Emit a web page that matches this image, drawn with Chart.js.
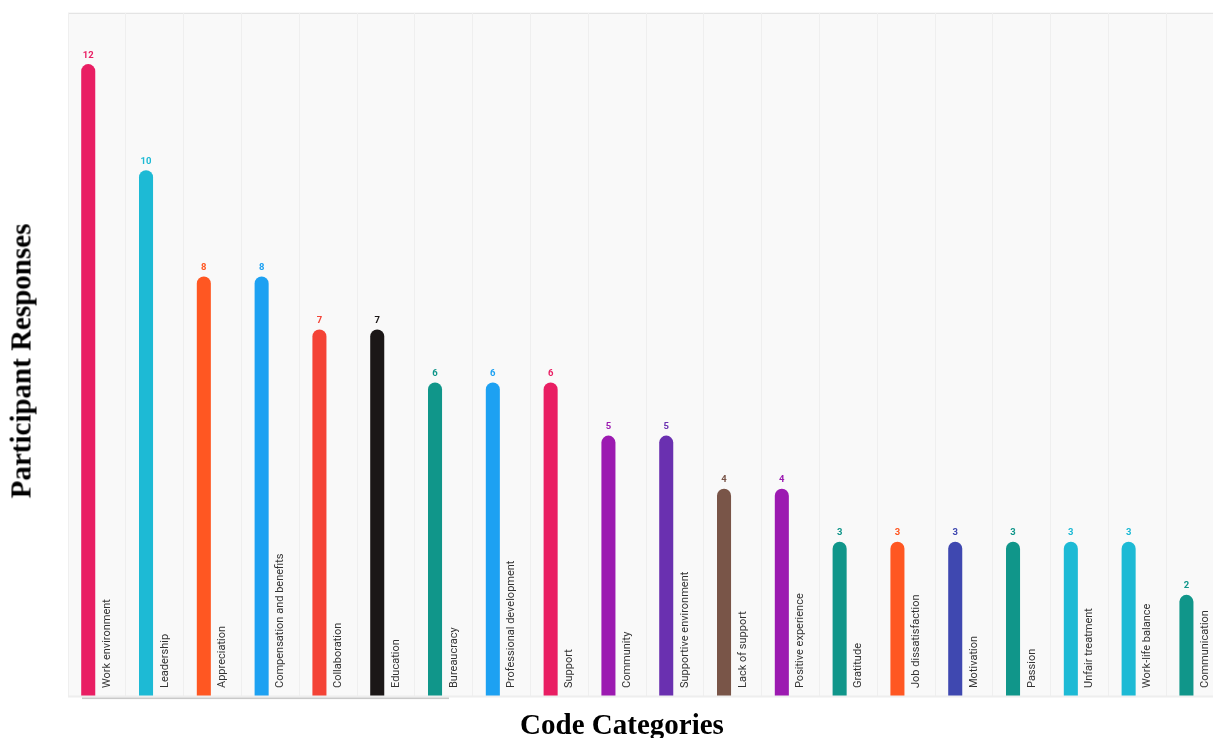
<!DOCTYPE html>
<html>
<head>
<meta charset="utf-8">
<script src="https://cdn.jsdelivr.net/npm/chart.js@4"></script>
<style>
  html, body { margin: 0; padding: 0; background: #ffffff; overflow: hidden; width: 1213px; height: 738px; }
  #wrap { position: relative; width: 1213px; height: 738px; overflow: hidden; }
  #chart { position: absolute; left: 0; top: 0; }
  .axis-title {
    position: absolute;
    font-family: "Liberation Serif", "Times New Roman", serif;
    font-weight: bold;
    font-size: 29px;
    line-height: 29px;
    color: #000;
    white-space: nowrap;
  }
  #xTitle { left: 622px; top: 710px; transform: translateX(-50%); }
  #yTitle { left: 21px; top: 361px; transform: translate(-50%, -50%) rotate(-90deg); }
</style>
</head>
<body>
<div id="wrap">
  <canvas id="chart" width="1240" height="738"></canvas>
  <div id="xTitle" class="axis-title">Code Categories</div>
  <div id="yTitle" class="axis-title">Participant Responses</div>
</div>
<script>
// Code categories and how many participants mentioned each
const categories = [
  "Work environment", "Leadership", "Appreciation", "Compensation and benefits",
  "Collaboration", "Education", "Bureaucracy", "Professional development",
  "Support", "Community", "Supportive environment", "Lack of support",
  "Positive experience", "Gratitude", "Job dissatisfaction", "Motivation",
  "Passion", "Unfair treatment", "Work-life balance", "Communication"
];
const responses = [12, 10, 8, 8, 7, 7, 6, 6, 6, 5, 5, 4, 4, 3, 3, 3, 3, 3, 3, 2];
const barColors = [
  "#E91E63", "#1DBAD5", "#FF5722", "#1DA1F2",
  "#F44336", "#1B1717", "#10968A", "#1DA1F2",
  "#E91E63", "#9C1AB1", "#6A30B0", "#795548",
  "#9C1AB1", "#10968A", "#FF5722", "#3F48B0",
  "#10968A", "#1DBAD5", "#1DBAD5", "#10968A"
];
const yMax = 13;

// Plot background, top rule and bottom strip
const frame = {
  id: 'frame',
  beforeDraw(chart) {
    const { ctx, chartArea: a } = chart;
    ctx.save();
    ctx.fillStyle = '#f9f9f9';
    ctx.fillRect(a.left, 13, a.right - a.left, a.bottom - 13);
    ctx.fillStyle = '#e4e4e4';
    ctx.fillRect(a.left, 12.5, a.right - a.left, 1.5);
    ctx.restore();
  },
  beforeDatasetsDraw(chart) {
    const { ctx, chartArea: a } = chart;
    ctx.save();
    ctx.fillStyle = '#ffffff';
    ctx.fillRect(a.left, 0, a.right - a.left, 12.5);
    ctx.restore();
  },
  afterDatasetsDraw(chart) {
    const { ctx, chartArea: a } = chart;
    ctx.save();
    ctx.fillStyle = '#ffffff';
    ctx.fillRect(a.left, 696, a.right - a.left, 10);
    ctx.fillStyle = '#eeeeee';
    ctx.fillRect(a.left, 695.5, a.right - a.left, 2);
    ctx.fillStyle = '#c9c9c9';
    ctx.fillRect(82, 697.5, 367, 1.6);
    ctx.restore();
  }
};

// Value above each bar and the category name beside it
const barLabels = {
  id: 'barLabels',
  afterDatasetsDraw(chart) {
    const { ctx } = chart;
    const meta = chart.getDatasetMeta(0);
    ctx.save();
    meta.data.forEach((bar, i) => {
      ctx.fillStyle = barColors[i];
      ctx.font = 'bold 9.5px Roboto, "Noto Sans", sans-serif';
      ctx.textAlign = 'center';
      ctx.textBaseline = 'alphabetic';
      ctx.fillText(String(responses[i]), bar.x, bar.y - 6.5);

      ctx.save();
      ctx.translate(bar.x + 21.5, 688);
      ctx.rotate(-Math.PI / 2);
      ctx.fillStyle = '#333333';
      ctx.font = '11px Roboto, "Noto Sans", sans-serif';
      ctx.textAlign = 'left';
      ctx.textBaseline = 'alphabetic';
      ctx.fillText(categories[i], 0, 0);
      ctx.restore();
    });
    ctx.restore();
  }
};

new Chart(document.getElementById('chart'), {
  type: 'bar',
  data: {
    labels: categories,
    datasets: [
      {
        label: 'Participant Responses',
        data: responses,
        backgroundColor: barColors,
        borderRadius: 7,
        borderSkipped: 'start',
        categoryPercentage: 0.6,
        barPercentage: 0.81
      },
      {
        label: 'spacer',
        data: categories.map(() => null),
        categoryPercentage: 0.6,
        barPercentage: 0.81
      }
    ]
  },
  options: {
    responsive: false,
    animation: false,
    devicePixelRatio: 1,
    layout: { padding: { left: 68, top: 11, right: 16, bottom: 37 } },
    plugins: {
      legend: { display: false },
      tooltip: { enabled: false }
    },
    scales: {
      x: {
        ticks: { display: false },
        border: { display: false },
        grid: { color: '#efefef', lineWidth: 1, drawTicks: false, offset: true }
      },
      y: {
        display: false,
        min: 0,
        max: yMax
      }
    }
  },
  plugins: [frame, barLabels]
});
</script>
</body>
</html>
